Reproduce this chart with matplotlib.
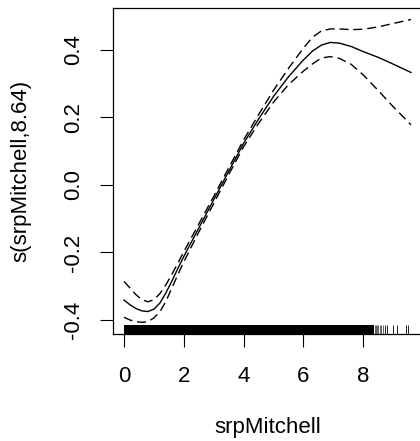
import numpy as np
import matplotlib
matplotlib.use("Agg")
import matplotlib.pyplot as plt
import matplotlib.transforms as mtransforms

plt.rcParams['font.family'] = ['Liberation Sans', 'DejaVu Sans']

# smooth term s(srpMitchell) with +/- 2 se bands
x = [0.0, 0.2, 0.4, 0.6, 0.8, 1.0, 1.2, 1.4, 1.6, 1.8, 2.0, 2.5, 3.0, 3.5, 4.0,
     4.5, 5.0, 5.5, 6.0, 6.3, 6.6, 6.9, 7.2, 7.6, 8.0, 8.5, 9.0, 9.6]
fit = [-0.341, -0.355, -0.366, -0.373, -0.375, -0.368, -0.350, -0.320, -0.285,
       -0.248, -0.212, -0.128, -0.044, 0.040, 0.123, 0.195, 0.262, 0.320, 0.370,
       0.396, 0.414, 0.422, 0.420, 0.410, 0.395, 0.378, 0.358, 0.333]
upper = [-0.286, -0.305, -0.325, -0.340, -0.346, -0.340, -0.322, -0.296, -0.265,
         -0.232, -0.198, -0.116, -0.034, 0.050, 0.133, 0.208, 0.280, 0.345, 0.405,
         0.437, 0.456, 0.462, 0.462, 0.460, 0.461, 0.468, 0.478, 0.490]
lower = [-0.392, -0.400, -0.405, -0.407, -0.405, -0.394, -0.376, -0.345, -0.306,
         -0.266, -0.228, -0.140, -0.055, 0.030, 0.113, 0.182, 0.245, 0.297, 0.337,
         0.358, 0.376, 0.380, 0.375, 0.357, 0.326, 0.280, 0.232, 0.178]

# rug: solid block where observations are dense, then single ticks
rug_dense = (0.0, 8.35)
rug_fade = [8.38, 8.42, 8.46, 8.5, 8.55, 8.6, 8.65]
rug_sparse = [8.73, 8.81, 9.01, 9.12, 9.42, 9.51]

xticks = [0, 2, 4, 6, 8]
yticks = [-0.4, -0.2, 0.0, 0.2, 0.4]
ytick_labels = ["-0.4", "-0.2", "0.0", "0.2", "0.4"]

fig = plt.figure(figsize=(4.2, 4.41), dpi=100)
ax = fig.add_axes([112.5 / 420, 1 - 334 / 441, 310 / 420, 326 / 441])

ax.plot(x, fit, color="black", lw=1.0)
ax.plot(x, upper, color="black", lw=1.0, dashes=(6.5, 3.5))
ax.plot(x, lower, color="black", lw=1.0, dashes=(6.5, 3.5))

trans = mtransforms.blended_transform_factory(ax.transData, ax.transAxes)
ax.fill_between(list(rug_dense), 0, 0.029, color="black", transform=trans, lw=0)
ax.vlines(rug_fade, 0, 0.029, color="black", lw=0.6, alpha=0.7, transform=trans)
ax.vlines(rug_sparse, 0, 0.029, color="black", lw=0.6, transform=trans)

ax.set_xlim(-0.384, 9.984)
ax.set_ylim(-0.4415, 0.524)

ax.set_xticks(xticks)
ax.set_yticks(yticks)
ax.set_yticklabels(ytick_labels, rotation=90, va="center")
ax.tick_params(direction="out", length=9.4, width=0.8, labelsize=16, color="black")
ax.tick_params(axis="x", pad=14)
ax.tick_params(axis="y", pad=11)

for s in ax.spines.values():
    s.set_linewidth(0.9)

ax.set_xlabel("srpMitchell", fontsize=16)
ax.set_ylabel("s(srpMitchell,8.64)", fontsize=16)
ax.xaxis.set_label_coords(0.5, -0.288)
ax.yaxis.set_label_coords(-0.297, 0.5)
ax.xaxis.label.set_va("center")
ax.yaxis.label.set_va("center")

fig.savefig("out.png", dpi=100)
